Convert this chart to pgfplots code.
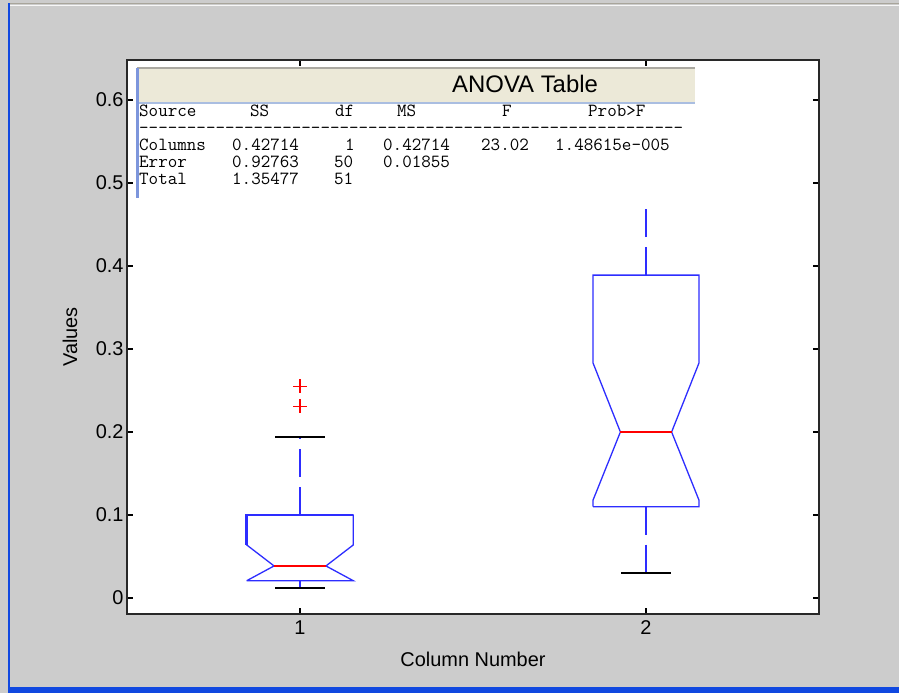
\documentclass[border=0pt]{standalone}
\usepackage{pgfplots}
\pgfplotsset{compat=1.18}
\usepackage{fontspec}
\setmainfont{Liberation Sans}
\definecolor{bggray}{RGB}{204,204,204}
\definecolor{hdr}{RGB}{236,233,216}
\definecolor{winblue}{RGB}{16,72,224}
\definecolor{tblblue}{RGB}{125,150,220}
\definecolor{mblue}{RGB}{45,45,255}
\definecolor{topline}{RGB}{168,165,155}
\definecolor{hdrline}{RGB}{170,168,160}
\definecolor{hdrblue}{RGB}{170,190,225}
\definecolor{axline}{RGB}{40,40,40}
\def\dd{-\kern0pt}
\def\ddd{\dd\dd\dd\dd\dd\dd\dd\dd}
\begin{document}
\begin{tikzpicture}[x=1bp,y=1bp,
  tt/.style={anchor=base west, inner sep=0, font=\ttfamily\fontsize{18.6}{20}\selectfont}]
\path[use as bounding box] (0,0) rectangle (899,693);
\fill[bggray] (0,0) rectangle (899,693);
\fill[topline] (8,688.5) rectangle (899,689.7);
\fill[white!85!bggray] (9.5,686.5) rectangle (899,688.2);
\fill[winblue] (8,0) rectangle (899,6);
\fill[winblue] (8,0) rectangle (9.6,690);

\begin{axis}[at={(127bp,79bp)}, anchor=south west, scale only axis,
  width=692bp, height=554bp,
  xmin=0.5, xmax=2.5, ymin=-0.0193, ymax=0.6482,
  xtick={1,2}, xticklabels={1,2},
  ytick={0,0.1,0.2,0.3,0.4,0.5,0.6},
  yticklabels={0,0.1,0.2,0.3,0.4,0.5,0.6},
  tick align=inside, major tick length=6bp,
  tick style={line width=1.2bp, black},
  axis line style={line width=1.4bp, axline},
  axis background/.style={fill=white},
  /pgf/number format/assume math mode=true,
  ticklabel style={font=\fontsize{20}{22}\selectfont},
  xticklabel style={yshift=-3bp},
  label style={font=\fontsize{20}{22}\selectfont},
  xlabel={Column Number}, ylabel={Values},
  xlabel style={at={(axis description cs:0.5,-0.0812)}, anchor=center},
  ylabel style={at={(axis description cs:-0.0824,0.5)}, anchor=center},
  clip=false]
% Column 1
\addplot[mblue, line width=1.3bp] coordinates {(0.846,0.0208) (0.925,0.0386) (0.846,0.0639) (0.846,0.1) (1.154,0.1) (1.154,0.0639) (1.075,0.0386) (1.154,0.0208) (0.846,0.0208)};
\addplot[mblue, line width=2.5bp] coordinates {(0.846,0.0639) (0.846,0.1) (1.154,0.1)};
\addplot[red, line width=1.2bp] coordinates {(0.925,0.0386) (1.075,0.0386)};
\addplot[mblue, line width=1.3bp, dash pattern=on 28bp off 10bp] coordinates {(1,0.1) (1,0.194)};
\addplot[mblue, line width=1.3bp] coordinates {(1,0.0208) (1,0.012)};
\addplot[black, line width=2.5bp] coordinates {(0.928,0.194) (1.072,0.194)};
\addplot[black, line width=2.5bp] coordinates {(0.928,0.012) (1.072,0.012)};
\addplot[only marks, mark=+, red, mark size=7bp, line width=1.2bp] coordinates {(1,0.255) (1,0.231)};
% Column 2
\addplot[mblue, line width=1.3bp] coordinates {(1.847,0.110) (1.847,0.118) (1.926,0.200) (1.847,0.283) (1.847,0.389) (2.153,0.389) (2.153,0.283) (2.074,0.200) (2.153,0.118) (2.153,0.110) (1.847,0.110)};
\addplot[red, line width=1.2bp] coordinates {(1.926,0.2) (2.074,0.2)};
\addplot[mblue, line width=1.3bp, dash pattern=on 28bp off 10bp] coordinates {(2,0.389) (2,0.471)};
\addplot[mblue, line width=1.3bp, dash pattern=on 28bp off 10bp] coordinates {(2,0.110) (2,0.030)};
\addplot[black, line width=2.5bp] coordinates {(1.928,0.030) (2.072,0.030)};
\end{axis}

% ANOVA table
\fill[hdr] (137,590) rectangle (695,625);
\draw[hdrline, line width=1.2bp] (137,625) -- (695,625);
\draw[hdrblue, line width=1.2bp] (137,590) -- (695,590);
\draw[tblblue, line width=2.5bp] (137.5,495) -- (137.5,625);
\node[anchor=base west, inner sep=0, font=\fontsize{24}{26}\selectfont] at (452,600.4) {ANOVA Table};

\node[tt] at (139,576) {Source};
\node[tt] at (250,576) {SS};
\node[tt] at (335,576) {df};
\node[tt] at (397,576) {MS};
\node[tt] at (502,576) {F};
\node[tt] at (588,576) {Prob>F};
\node[tt] at (139,559) {\ddd\ddd\ddd\ddd\ddd\ddd\ddd\dd};
\node[tt] at (139,542) {Columns};
\node[tt] at (232,542) {0.42714};
\node[tt] at (345,542) {1};
\node[tt] at (383,542) {0.42714};
\node[tt] at (481,542) {23.02};
\node[tt] at (555,542) {1.48615e-005};
\node[tt] at (139,525) {Error};
\node[tt] at (232,525) {0.92763};
\node[tt] at (334,525) {50};
\node[tt] at (383,525) {0.01855};
\node[tt] at (139,508) {Total};
\node[tt] at (232,508) {1.35477};
\node[tt] at (334,508) {51};
\end{tikzpicture}
\end{document}
